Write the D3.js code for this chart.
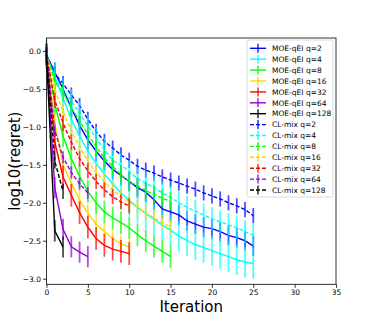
<!DOCTYPE html>
<html>
<head>
<meta charset="utf-8">
<script src="https://cdn.jsdelivr.net/npm/d3@7"></script>
<style>
  body { margin: 0; background: #fff; }
  svg text { font-family: "DejaVu Sans", sans-serif; fill: #000; }
</style>
</head>
<body>
<script>
//regret curves, one value per iteration (index = iteration)
var moe2 = [-0.05,-0.28,-0.5,-0.75,-0.98,-1.17,-1.32,-1.45,-1.56,-1.64,-1.72,-1.80,-1.86,-1.96,-2.08,-2.12,-2.16,-2.24,-2.28,-2.32,-2.34,-2.38,-2.43,-2.46,-2.50,-2.57];
var moe4 = [-0.05,-0.35,-0.62,-0.9,-1.12,-1.32,-1.48,-1.62,-1.75,-1.87,-1.97,-2.06,-2.14,-2.22,-2.29,-2.36,-2.44,-2.5,-2.55,-2.59,-2.63,-2.67,-2.71,-2.75,-2.78,-2.80];
var moe8 = [-0.05,-0.7,-1.12,-1.42,-1.65,-1.85,-2.0,-2.12,-2.2,-2.26,-2.33,-2.42,-2.5,-2.57,-2.64,-2.71];
var moe16 = [-0.05,-0.95,-1.5,-1.74,-1.96,-2.14,-2.28,-2.38,-2.47,-2.54,-2.58];
var moe32 = [-0.05,-1.2,-1.66,-1.9,-2.13,-2.32,-2.47,-2.56,-2.61,-2.64,-2.67];
var moe64 = [-0.05,-1.8,-2.35,-2.58,-2.65,-2.71];
var moe128 = [-0.05,-2.37,-2.58];

var cl2 = [-0.05,-0.3,-0.43,-0.58,-0.72,-0.9,-1.06,-1.19,-1.28,-1.37,-1.44,-1.52,-1.57,-1.61,-1.66,-1.70,-1.74,-1.78,-1.82,-1.87,-1.91,-1.95,-2.0,-2.04,-2.09,-2.17];
var cl4 = [-0.05,-0.35,-0.51,-0.66,-0.82,-0.99,-1.15,-1.3,-1.44,-1.5,-1.59,-1.68,-1.74,-1.80,-1.87,-1.93,-2.0,-2.06,-2.11,-2.16,-2.21,-2.25,-2.29,-2.33,-2.38,-2.43];
var cl8 = [-0.05,-0.4,-0.55,-0.75,-0.92,-1.1,-1.26,-1.41,-1.52,-1.63,-1.72,-1.78,-1.84,-1.89,-1.94,-1.98];
var cl16 = [-0.05,-0.5,-0.8,-1.05,-1.27,-1.45,-1.6,-1.72,-1.83,-1.92,-1.99,-2.06,-2.13,-2.2,-2.26,-2.32];
var cl32 = [-0.05,-0.65,-0.95,-1.2,-1.42,-1.58,-1.72,-1.83,-1.92,-1.99,-2.04];
var cl64 = [-0.05,-1.05,-1.4,-1.6,-1.75,-1.87];
var cl128 = [-0.05,-1.45,-1.85];

//error bar half widths per series
var errMoe = [0.13, 0.2, 0.15, 0.12, 0.15, 0.14, 0.14];
var errCl = [0.1, 0.15, 0.12, 0.1, 0.1, 0.08, 0.1];

var qValues = [2, 4, 8, 16, 32, 64, 128];
var seriesColors = ["#0000ff", "#00ffff", "#00ff00", "#ffd700", "#ff0000", "#9400d3", "#000000"];

var xTicks = [0, 5, 10, 15, 20, 25, 30, 35];
var yTicks = [0, -0.5, -1, -1.5, -2, -2.5, -3];

var moeValues = [moe2, moe4, moe8, moe16, moe32, moe64, moe128];
var clValues = [cl2, cl4, cl8, cl16, cl32, cl64, cl128];

var width = 374, height = 320;
var margin = {left: 46.5, right: 38, top: 38, bottom: 35.7};

var series = [];
qValues.forEach(function(q, i){
    series.push({label: "MOE-qEI q=" + q, color: seriesColors[i], dashed: false, values: moeValues[i], err: errMoe[i]});
});
qValues.forEach(function(q, i){
    series.push({label: "CL-mix q=" + q, color: seriesColors[i], dashed: true, values: clValues[i], err: errCl[i]});
});

var svg = d3.select("body").append("svg")
    .attr("width", width)
    .attr("height", height);

var x = d3.scaleLinear().domain([0, 35]).range([margin.left, width - margin.right]);
var y = d3.scaleLinear().domain([-3.074, 0.171]).range([height - margin.bottom, margin.top]);

var plot = svg.append("g");

var line = d3.line()
    .x(function(d){ return x(d.i); })
    .y(function(d){ return y(d.v); });

series.forEach(function(s){
    var pts = s.values.map(function(v, i){ return {i: i, v: v}; });
    var g = plot.append("g");
    g.append("path")
        .datum(pts)
        .attr("fill", "none")
        .attr("stroke", s.color)
        .attr("stroke-width", 1.4)
        .attr("stroke-dasharray", s.dashed ? "4,2" : null)
        .attr("d", line);
    //error bars
    g.selectAll(".eb")
        .data(pts)
        .enter()
        .append("line")
        .attr("x1", function(d){ return x(d.i); })
        .attr("x2", function(d){ return x(d.i); })
        .attr("y1", function(d){ return y(d.v - s.err); })
        .attr("y2", function(d){ return y(d.v + s.err); })
        .attr("stroke", s.color)
        .attr("stroke-opacity", 0.7)
        .attr("stroke-width", 1.8);
});

//axes
var xAxis = d3.axisBottom(x).tickValues(xTicks).tickSize(3.5).tickPadding(2)
    .tickFormat(d3.format("d"));
var yAxis = d3.axisLeft(y).tickValues(yTicks).tickSize(3.5).tickPadding(2)
    .tickFormat(function(d){ return d3.format(".1f")(d).replace("-", "\u2212"); });

var gx = svg.append("g")
    .attr("transform", "translate(0," + (height - margin.bottom) + ")")
    .call(xAxis);
var gy = svg.append("g")
    .attr("transform", "translate(" + margin.left + ",0)")
    .call(yAxis);
[gx, gy].forEach(function(g){
    g.select(".domain").remove();
    g.selectAll("line").attr("stroke", "#000").attr("stroke-width", 0.8);
    g.selectAll("text").attr("font-size", 7.5).attr("font-family", "DejaVu Sans").attr("fill", "#000");
});

//frame
svg.append("rect")
    .attr("x", margin.left)
    .attr("y", margin.top)
    .attr("width", width - margin.left - margin.right)
    .attr("height", height - margin.top - margin.bottom)
    .attr("fill", "none")
    .attr("stroke", "#000")
    .attr("stroke-width", 0.8);

//axis labels
svg.append("text")
    .attr("x", (margin.left + width - margin.right) / 2)
    .attr("y", 311.5)
    .attr("text-anchor", "middle")
    .attr("font-size", 15)
    .text("Iteration");
svg.append("text")
    .attr("transform", "translate(20," + ((margin.top + height - margin.bottom) / 2) + ") rotate(-90)")
    .attr("text-anchor", "middle")
    .attr("font-size", 15)
    .text("log10(regret)");

//legend
var legend = svg.append("g").attr("transform", "translate(247,40)");
legend.append("rect")
    .attr("width", 86)
    .attr("height", 157)
    .attr("rx", 2)
    .attr("fill", "#fff")
    .attr("fill-opacity", 0.8)
    .attr("stroke", "#d0d0d0")
    .attr("stroke-width", 0.8);

var items = legend.selectAll(".item")
    .data(series)
    .enter()
    .append("g")
    .attr("transform", function(d, i){ return "translate(0," + (8.3 + i * 10.9) + ")"; });
items.append("line")
    .attr("x1", 3).attr("x2", 19)
    .attr("stroke", function(d){ return d.color; })
    .attr("stroke-width", 1.4)
    .attr("stroke-dasharray", function(d){ return d.dashed ? "4,2" : null; });
items.append("line")
    .attr("x1", 11).attr("x2", 11)
    .attr("y1", -4.5).attr("y2", 4.5)
    .attr("stroke", function(d){ return d.color; })
    .attr("stroke-opacity", 0.7)
    .attr("stroke-width", 1.8);
items.append("text")
    .attr("x", 25)
    .attr("y", 2.7)
    .attr("font-size", 7.5)
    .text(function(d){ return d.label; });
</script>
</body>
</html>
